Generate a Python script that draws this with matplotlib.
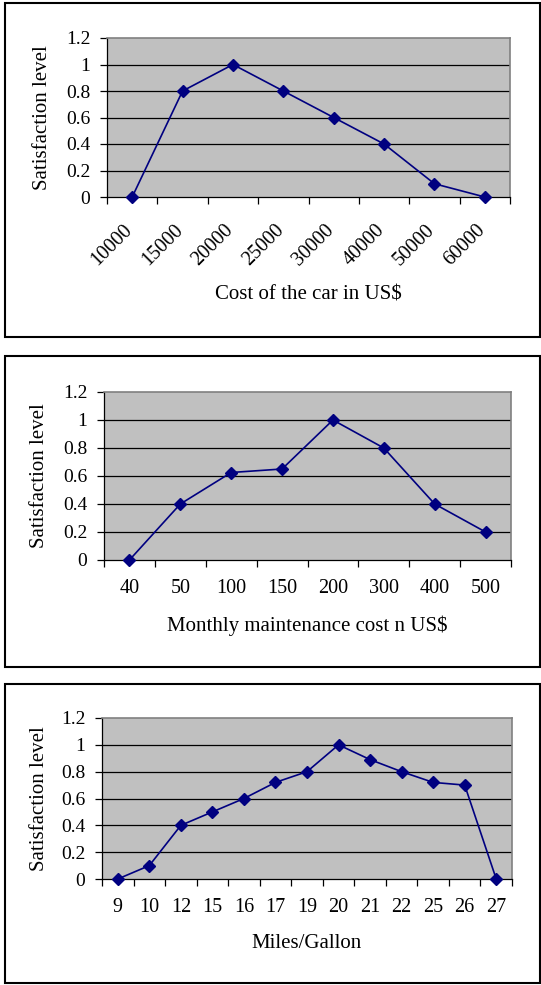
import matplotlib
matplotlib.use("Agg")
import matplotlib.pyplot as plt
import matplotlib.transforms as mtransforms
from matplotlib.patches import Rectangle

# data
cost_labels = ["10000", "15000", "20000", "25000", "30000", "40000", "50000", "60000"]
cost_sat = [0, 0.8, 1.0, 0.8, 0.6, 0.4, 0.1, 0]

maint_labels = ["40", "50", "100", "150", "200", "300", "400", "500"]
maint_sat = [0, 0.4, 0.625, 0.65, 1.0, 0.8, 0.4, 0.2]

mpg_labels = ["9", "10", "12", "15", "16", "17", "19", "20", "21", "22", "25", "26", "27"]
mpg_sat = [0, 0.1, 0.4, 0.5, 0.6, 0.72, 0.8, 1.0, 0.89, 0.8, 0.72, 0.7, 0]

y_ticks = [0, 0.2, 0.4, 0.6, 0.8, 1.0, 1.2]
y_ticklabels = ["0", "0.2", "0.4", "0.6", "0.8", "1", "1.2"]

W, H = 541, 985
FONT = "Liberation Serif"
FS_Y = 14
FS_X = 14.5
FS_LAB = 15
plt.rcParams['font.family'] = FONT

fig = plt.figure(figsize=(W / 100, H / 100), dpi=100)


def px_box(l, t, r, b):
    return [l / W, 1 - b / H, (r - l) / W, (b - t) / H]


def frame(l, t, r, b):
    fig.patches.append(Rectangle((l / W, 1 - b / H), (r - l) / W, (b - t) / H,
                                 transform=fig.transFigure, fill=False,
                                 edgecolor='black', linewidth=1.5))


def panel(box, labels, values, xlabel, ylab_px, xlab_px, rotate=False):
    l, t, r, b = box
    ax = fig.add_axes(px_box(l, t, r, b))
    ax.set_facecolor('#c0c0c0')
    n = len(labels)
    xs = list(range(n))
    ax.set_xlim(-0.5, n - 0.5)
    ax.set_ylim(0, 1.2)
    for yv in y_ticks[1:-1]:
        ax.axhline(yv, color='black', linewidth=0.9, zorder=1)
    ax.plot(xs, values, color='#000080', linewidth=1.2, marker='D',
            markersize=6.5, markerfacecolor='#000080', markeredgecolor='#000080',
            zorder=3, clip_on=False)
    ax.set_yticks(y_ticks)
    ax.set_yticklabels(y_ticklabels, fontsize=FS_Y)
    ax.tick_params(axis='y', direction='out', length=5, width=0.9, pad=7)
    ax.set_xticks(xs)
    if rotate:
        ax.set_xticklabels(labels, fontsize=FS_X, rotation=45, ha='right',
                           rotation_mode='anchor')
        ax.tick_params(axis='x', which='major', length=0, pad=14)
        shift = mtransforms.ScaledTranslation(-9 / 100, -4 / 100, fig.dpi_scale_trans)
        for lab in ax.get_xticklabels():
            lab.set_transform(lab.get_transform() + shift)
    else:
        ax.set_xticklabels(labels, fontsize=FS_X)
        ax.tick_params(axis='x', which='major', length=0, pad=14)
    ax.set_xticks([i - 0.5 for i in range(n + 1)], minor=True)
    ax.tick_params(axis='x', which='minor', direction='out', length=5, width=0.9)
    for s in ['top', 'right']:
        ax.spines[s].set_color('#808080')
        ax.spines[s].set_linewidth(1.2)
    for s in ['left', 'bottom']:
        ax.spines[s].set_color('black')
        ax.spines[s].set_linewidth(0.9)
    ax.set_ylabel("Satisfaction level", fontsize=FS_LAB, va='center')
    ax.yaxis.set_label_coords((ylab_px - l) / (r - l), 0.5)
    ax.set_xlabel(xlabel, fontsize=FS_LAB, va='center')
    ax.xaxis.set_label_coords(0.5, -(xlab_px - b) / (b - t))
    return ax


frame(5, 3, 540, 337)
panel((107, 38, 510, 197), cost_labels, cost_sat, "Cost of the car in US$",
      42, 295, rotate=True)

frame(5, 356, 540, 667)
panel((104, 392, 511, 560), maint_labels, maint_sat,
      "Monthly maintenance cost n US$", 40, 626)

frame(5, 684, 540, 983)
panel((102, 718, 512, 879), mpg_labels, mpg_sat, "Miles/Gallon", 39, 943)

fig.savefig("out.png", dpi=100)
